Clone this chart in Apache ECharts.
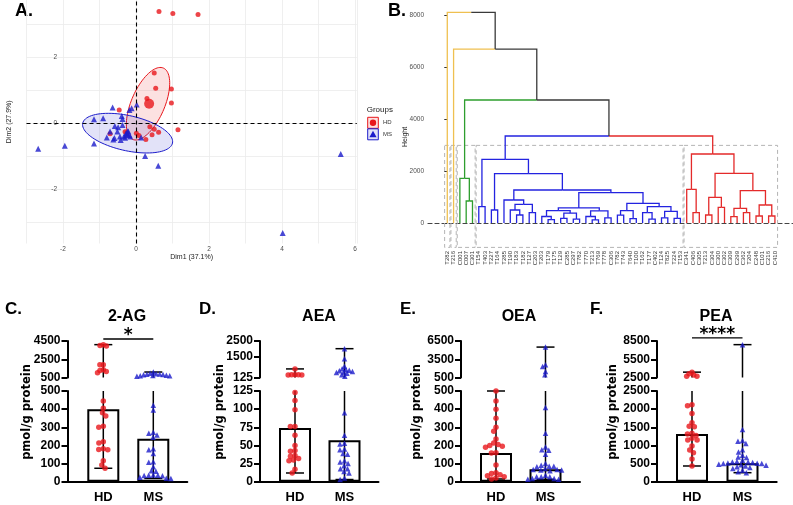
<!DOCTYPE html>
<html><head><meta charset="utf-8">
<script src="https://cdn.jsdelivr.net/npm/echarts@6/dist/echarts.min.js"></script>
<style>html,body{margin:0;padding:0;background:#fff}#c{width:793px;height:505px}</style>
</head><body><div id="c"></div>
<script>
// ================= DATA =================
// Panel A: PCA individuals (Dim1, Dim2)
const A_HD = [[0.63,3.37],[1.01,3.31],[1.70,3.28],[0.50,1.51],[0.54,1.05],[0.97,1.03],[0.30,0.74],[0.97,0.60],[-0.46,0.39],[1.15,-0.21],[0.38,-0.12],[0.50,-0.19],[0.62,-0.28],[0.44,-0.36],[0.27,-0.50],[0.08,-0.38],[0.01,-0.31],[-0.30,-0.27],[-0.71,-0.33],[-0.25,-0.30]];
const A_MS = [[-2.68,-0.78],[-1.95,-0.69],[-1.15,0.11],[-0.90,0.14],[-1.15,-0.62],[-0.64,0.47],[-0.80,-0.44],[-0.71,-0.26],[-0.58,-0.09],[-0.49,-0.13],[-0.59,-0.46],[-0.39,0.21],[-0.37,0.12],[-0.37,-0.06],[-0.51,-0.26],[-0.44,-0.41],[-0.42,-0.52],[-0.33,-0.41],[-0.27,-0.31],[-0.23,-0.36],[-0.18,0.39],[-0.12,0.44],[0.02,0.56],[-0.21,-0.26],[-0.16,-0.41],[0.14,-0.44],[0.25,-1.00],[0.61,-1.30],[4.02,-3.33],[5.61,-0.94],[-0.62,-0.50],[-0.30,-0.45]];
const A_HD_MEAN = [[0.36,0.58]];
const A_MS_MEAN = [[-0.23,-0.31]];
// confidence ellipses: centre x, centre y, axis-1 (x,y), axis-2 (x,y)
const A_ELLIPSES = [[0.33,0.58,0.42,1.08,0.42,-0.20],[-0.23,-0.31,1.23,-0.30,0.10,0.52]];
const A_X_LABELS = [-2,0,2,4,6];
const A_Y_GRID = [-3,-2,-1,0,1,2,3];
const A_Y_LABELS = [-2,0,2];

// Panel B: dendrogram
const B_LEAVES = ["T282","T216","C001","C007","C301",
 "T154","T403","T227","T164","T285","T190","T183","T182","T127","C203","T203","T179","T175","T129","C285","C297","T782","T770","T213","T769","T778","C306","T782","T743","T640","T100","T162","T177","C402","T124","T825","T224","T153",
 "C341","C406","C305","T213","C304","C300","C302","C309","C299","C362","T204","C248","C101","C216","C410"];
// merges: [left, right, height]; leaves are indices into B_LEAVES
const B_GREEN = [2,[3,4,847],1720];
const B_BLUE = [[5,6,629],[[7,8,500],[[9,[[10,[11,12,308],500],[13,14,398],719],886],[[[[15,[16,17,130],250],[[18,19,180],[20,21,150],380],475],[[22,[23,24,120],250],[25,26,200],470],580],[[[27,28,300],[29,30,170],475],[[31,[32,33,150],400],[[34,35,200],[36,37,180],450],629],757],1168],1271],1900],2452];
const B_RED = [[38,[39,40,398],1297],[[[41,42,308],[43,44,603],989],[[[45,46,244],[47,48,398],565],[[49,50,270],[51,52,270],693],1245],1913],2658];
const B_TREE = [0,[1,[B_GREEN,[B_BLUE,B_RED,3351],4738],6700],8113];
const B_CLUSTERS = [[0,'#EFC050'],[1,'#EFC050'],[B_GREEN,'#2E9E2E'],[B_BLUE,'#2323E0'],[B_RED,'#E42A2A']];
const B_Y_TICKS = [0,2000,4000,6000,8000];
const B_RECT_TOP = 2990, B_RECT_BOTTOM = -940;

// Panels C-F: pmol/g protein per subject
const C_HD = [4100,4000,3950,1910,1900,1350,1280,1170,1020,445,405,380,362,305,300,220,213,182,178,176,116,92,74];
const C_MS = [1100,960,920,880,850,820,790,760,730,700,680,650,422,395,273,267,258,245,182,176,155,110,107,83,60,58,37,36,35,34,33,25,19,18];
const C_BARS = [400,237];
const D_HD = [683,300,298,296,294,292,123,112,99,76,76,64,50,43,42,36,35,32,30,29,17,12];
const D_MS = [2000,1350,850,690,650,600,560,520,480,450,400,300,200,95,64,53,52,45,44,39,38,29,27,25,22,18,18,14,12,5,3];
const D_BARS = [74,57];
const E_HD = [500,445,400,350,300,278,235,213,205,200,195,190,160,158,92,50,45,38,33,27,20,15];
const E_MS = [5500,2600,2300,1500,950,409,267,191,176,173,151,100,91,85,85,82,73,67,67,64,64,60,36,27,27,27,18,18,13,13];
const E_BARS = [158,68];
const F_HD = [3380,3100,2900,2720,2700,2118,2091,1882,1627,1527,1518,1336,1318,1273,1200,1150,1150,984,874,800,626,433];
const F_MS = [7900,1436,1136,1118,1050,882,818,727,682,664,591,560,545,545,530,518,510,500,500,480,470,454,430,409,391,364,318,273,248];
const F_BARS = [1318,507];
const GROUPS = ['HD','MS'];
const C_TOP_TICKS = [500,2500,4500], D_TOP_TICKS = [125,1500,2500], E_TOP_TICKS = [500,3500,6500], F_TOP_TICKS = [2500,5500,8500];

// ================= LAYOUT / STYLE =================
const FONT = '"Liberation Sans", Arial, sans-serif';
const RED = '#E8161B', BLUE = '#1C1CCB';
const PANELS = [
 {title:'2-AG', letter:'C.', hd:C_HD, ms:C_MS, bars:C_BARS, bot:[0,500,100], top:[500,4500], topTicks:C_TOP_TICKS, sig:{text:'*', v:4720},
  L:{axisX:67.5, hdX:103.3, msX:153.3, end:187.3, titleX:127, letterX:5, ylabX:27.5}},
 {title:'AEA', letter:'D.', hd:D_HD, ms:D_MS, bars:D_BARS, bot:[0,125,25], top:[125,2500], topTicks:D_TOP_TICKS, sig:null,
  L:{axisX:260, hdX:295, msX:344.5, end:378.5, titleX:319, letterX:199, ylabX:220}},
 {title:'OEA', letter:'E.', hd:E_HD, ms:E_MS, bars:E_BARS, bot:[0,500,100], top:[500,6500], topTicks:E_TOP_TICKS, sig:null,
  L:{axisX:461, hdX:496, msX:545.5, end:580, titleX:519, letterX:400, ylabX:417}},
 {title:'PEA', letter:'F.', hd:F_HD, ms:F_MS, bars:F_BARS, bot:[0,2500,500], top:[2500,8500], topTicks:F_TOP_TICKS, sig:{text:'****', v:9000},
  L:{axisX:657, hdX:692, msX:742.5, end:776.7, titleX:716, letterX:590, ylabX:613}}
];
const TOP_TOP = 341, TOP_H = 36.5, BOT_TOP = 391, BOT_H = 90.7;
const plain = v => String(v);

// ================= BUILD =================
const grids = [], xAxes = [], yAxes = [], series = [], graphics = [];

// ---- Panel A ----
grids.push({left:26.5, top:0, width:330.3, height:243.5});
xAxes.push({gridIndex:0, type:'value', min:-3, max:6.05, interval:1,
  axisLine:{show:false}, axisTick:{show:false},
  axisLabel:{formatter:v=>A_X_LABELS.indexOf(v)>=0?String(v):'', fontSize:6.5, color:'#4d4d4d', margin:2, fontFamily:FONT},
  splitLine:{show:true, lineStyle:{color:'#ebebeb', width:0.8}},
  name:'Dim1 (37.1%)', nameLocation:'middle', nameGap:10, nameTextStyle:{fontSize:7, color:'#222', fontFamily:FONT}});
yAxes.push({gridIndex:0, type:'value', min:-3.65, max:3.72, offset:-33.5,
  axisLine:{show:false}, axisTick:{show:false, customValues:A_Y_GRID},
  axisLabel:{customValues:A_Y_LABELS, formatter:plain, fontSize:6.5, color:'#4d4d4d', margin:3, fontFamily:FONT},
  splitLine:{show:true, lineStyle:{color:'#ebebeb', width:0.8}},
  name:'Dim2 (27.9%)', nameLocation:'middle', nameGap:47, nameTextStyle:{fontSize:7, color:'#222', fontFamily:FONT}});
const A_FILL = ['rgba(232,22,27,0.13)','rgba(28,28,203,0.13)'];
const A_STROKE = [RED, BLUE];
series.push({type:'custom', xAxisIndex:0, yAxisIndex:0, silent:true, z:1, data:A_ELLIPSES,
  renderItem:(params, api)=>{
    const e = A_ELLIPSES[params.dataIndex]; const pts=[];
    for (let k=0;k<=90;k++){ const t=k/90*2*Math.PI;
      pts.push(api.coord([e[0]+e[2]*Math.cos(t)+e[4]*Math.sin(t), e[1]+e[3]*Math.cos(t)+e[5]*Math.sin(t)])); }
    return {type:'polygon', shape:{points:pts}, style:{fill:A_FILL[params.dataIndex], stroke:A_STROKE[params.dataIndex], lineWidth:1}};
  }});
series.push({type:'scatter', xAxisIndex:0, yAxisIndex:0, data:A_HD, symbol:'circle', symbolSize:5, itemStyle:{color:RED}, z:3,
  markLine:{silent:true, symbol:['none','none'], label:{show:false}, lineStyle:{color:'#000', type:[4,3], width:1.1}, data:[{xAxis:0},{yAxis:0}]}});
series.push({type:'scatter', xAxisIndex:0, yAxisIndex:0, data:A_MS, symbol:'triangle', symbolSize:6, itemStyle:{color:BLUE}, z:3});
series.push({type:'scatter', xAxisIndex:0, yAxisIndex:0, data:A_HD_MEAN, symbol:'circle', symbolSize:10, itemStyle:{color:RED}, z:4});
series.push({type:'scatter', xAxisIndex:0, yAxisIndex:0, data:A_MS_MEAN, symbol:'triangle', symbolSize:10, itemStyle:{color:BLUE}, z:4});
// legend (A)
graphics.push({type:'text', x:366.7, y:109.3, style:{text:'Groups', fill:'#222', font:'8px '+FONT, align:'left', verticalAlign:'middle'}});
graphics.push({type:'rect', shape:{x:367.7, y:117.3, width:10.6, height:11}, style:{fill:A_FILL[0], stroke:RED, lineWidth:1}});
graphics.push({type:'circle', shape:{cx:373, cy:122.8, r:3.2}, style:{fill:RED}});
graphics.push({type:'text', x:383, y:122.8, style:{text:'HD', fill:'#333', font:'6px '+FONT, align:'left', verticalAlign:'middle'}});
graphics.push({type:'rect', shape:{x:367.7, y:128.8, width:10.6, height:11}, style:{fill:A_FILL[1], stroke:BLUE, lineWidth:1}});
graphics.push({type:'polygon', shape:{points:[[373,130.8],[376.6,137.2],[369.4,137.2]]}, style:{fill:BLUE}});
graphics.push({type:'text', x:383, y:134.3, style:{text:'MS', fill:'#333', font:'6px '+FONT, align:'left', verticalAlign:'middle'}});

// ---- Panel B ----
grids.push({left:428, top:0, width:365, height:248});
xAxes.push({gridIndex:1, type:'value', min:-3.06, max:54.87,
  axisLine:{show:true, onZero:true, lineStyle:{color:'#444', type:[4,3], width:1.2}},
  axisTick:{show:false}, splitLine:{show:false},
  axisLabel:{customValues:B_LEAVES.map((_,i)=>i), formatter:v=>B_LEAVES[Math.round(v)], rotate:90, fontSize:6, color:'#333', margin:3, fontFamily:FONT}});
yAxes.push({gridIndex:1, type:'value', min:-963, max:8590,
  axisLine:{show:false}, splitLine:{show:false},
  axisTick:{show:true, customValues:B_Y_TICKS, length:3, lineStyle:{color:'#333'}},
  axisLabel:{customValues:B_Y_TICKS, formatter:plain, fontSize:6.5, color:'#4d4d4d', margin:4, fontFamily:FONT}});
const CMAP = new Map(B_CLUSTERS);
const B_SEGS = [];
function layoutTree(node, color){
  if (typeof node === 'number') return {x:node, h:0, color};
  const l = node[0], r = node[1], h = node[2];
  const cl = layoutTree(l, CMAP.has(l)?CMAP.get(l):color);
  const cr = layoutTree(r, CMAP.has(r)?CMAP.get(r):color);
  const x = (cl.x+cr.x)/2;
  B_SEGS.push([cl.x, cl.h, x, h, cl.color]);
  B_SEGS.push([cr.x, cr.h, x, h, cr.color]);
  return {x, h, color};
}
layoutTree(B_TREE, '#3a3a3a');
function leafRange(node){ if (typeof node==='number') return [node,node]; const a=leafRange(node[0]), b=leafRange(node[1]); return [Math.min(a[0],b[0]), Math.max(a[1],b[1])]; }
const B_RECTS = B_CLUSTERS.map(c=>{ const r=leafRange(c[0]); return [r[0]-0.42, r[1]+0.42, B_RECT_TOP, B_RECT_BOTTOM]; });
series.push({type:'custom', xAxisIndex:1, yAxisIndex:1, silent:true, z:1, data:B_RECTS,
  renderItem:(params, api)=>{
    const r = B_RECTS[params.dataIndex]; const p1 = api.coord([r[0], r[2]]), p2 = api.coord([r[1], r[3]]);
    return {type:'rect', shape:{x:p1[0], y:p1[1], width:p2[0]-p1[0], height:p2[1]-p1[1]}, style:{fill:'none', stroke:'#b4b4b4', lineWidth:1, lineDash:[4,3]}};
  }});
series.push({type:'custom', xAxisIndex:1, yAxisIndex:1, silent:true, z:2, data:B_SEGS.map(s=>[s[0],s[1],s[2],s[3]]),
  renderItem:(params, api)=>{
    const s = B_SEGS[params.dataIndex];
    const a = api.coord([s[0],s[1]]), b = api.coord([s[0],s[3]]), c = api.coord([s[2],s[3]]);
    return {type:'polyline', shape:{points:[a,b,c]}, style:{fill:'none', stroke:s[4], lineWidth:1.3}};
  }});
graphics.push({type:'text', x:405, y:137, rotation:Math.PI/2, style:{text:'Height', fill:'#222', font:'7px '+FONT, align:'center', verticalAlign:'middle'}});

// ---- Panels C-F ----
function swarm(values, segMin, pxPerUnit, d){
  const items = values.map((v,i)=>({v, i, y:(v-segMin)*pxPerUnit}));
  items.sort((a,b)=>b.v-a.v);
  const placed = [], off = new Array(values.length).fill(0);
  for (const it of items){
    const blocks = [], cands = [0];
    for (const p of placed){ const dy = Math.abs(p.y-it.y); if (dy < d){ const dx = Math.sqrt(d*d-dy*dy); blocks.push([p.x-dx, p.x+dx]); cands.push(p.x-dx, p.x+dx); } }
    cands.sort((a,b)=>Math.abs(a)-Math.abs(b));
    let x = 0;
    for (const c of cands){ if (blocks.every(b=>c<=b[0]+1e-6 || c>=b[1]-1e-6)){ x=c; break; } }
    placed.push({x, y:it.y}); off[it.i] = x;
  }
  return off;
}
function whisker(gi, ranges, segMin, segMax){
  return {type:'custom', xAxisIndex:gi, yAxisIndex:gi, silent:true, z:3, data:ranges.map((r,i)=>[i+1, r[0], r[1]]),
    renderItem:(params, api)=>{
      const x = api.value(0), lo = api.value(1), hi = api.value(2);
      const a = Math.max(lo, segMin), b = Math.min(hi, segMax);
      const ch = [];
      if (b > a){
        const pa = api.coord([x,a]), pb = api.coord([x,b]);
        ch.push({type:'line', shape:{x1:pa[0], y1:pa[1], x2:pb[0], y2:pb[1]}, style:{stroke:'#000', lineWidth:1.5}});
        if (lo >= segMin) ch.push({type:'line', shape:{x1:pa[0]-9, y1:pa[1], x2:pa[0]+9, y2:pa[1]}, style:{stroke:'#000', lineWidth:1.5}});
        if (hi <= segMax) ch.push({type:'line', shape:{x1:pb[0]-9, y1:pb[1], x2:pb[0]+9, y2:pb[1]}, style:{stroke:'#000', lineWidth:1.5}});
      }
      return {type:'group', children:ch};
    }};
}
const yLabelStyle = {fontSize:12, fontWeight:'bold', color:'#000', fontFamily:FONT, formatter:plain};
PANELS.forEach((P, k)=>{
  const L = P.L, gt = grids.length, gb = gt+1;
  const unit = L.msX - L.hdX;
  const xmin = 1 - (L.hdX - L.axisX)/unit, xmax = 2 + (L.end - L.msX)/unit;
  grids.push({left:L.axisX, top:TOP_TOP, width:L.end-L.axisX, height:TOP_H});
  grids.push({left:L.axisX, top:BOT_TOP, width:L.end-L.axisX, height:BOT_H});
  xAxes.push({gridIndex:gt, type:'value', min:xmin, max:xmax, show:false});
  xAxes.push({gridIndex:gb, type:'value', min:xmin, max:xmax,
    axisLine:{show:true, lineStyle:{color:'#000', width:2}}, axisTick:{show:false}, splitLine:{show:false},
    axisLabel:{customValues:[1,2], formatter:v=>GROUPS[Math.round(v)-1], fontSize:13, fontWeight:'bold', color:'#000', margin:9, fontFamily:FONT}});
  yAxes.push({gridIndex:gt, type:'value', min:P.top[0], max:P.top[1],
    axisLine:{show:true, lineStyle:{color:'#000', width:2}},
    axisTick:{show:true, customValues:P.topTicks, length:6, lineStyle:{color:'#000', width:2}},
    axisLabel:Object.assign({customValues:P.topTicks, margin:7}, yLabelStyle), splitLine:{show:false}});
  yAxes.push({gridIndex:gb, type:'value', min:P.bot[0], max:P.bot[1], interval:P.bot[2],
    axisLine:{show:true, lineStyle:{color:'#000', width:2}},
    axisTick:{show:true, length:6, lineStyle:{color:'#000', width:2}},
    axisLabel:Object.assign({margin:7}, yLabelStyle), splitLine:{show:false}});
  // bars (median)
  series.push({type:'bar', xAxisIndex:gb, yAxisIndex:gb, data:[[1,P.bars[0]],[2,P.bars[1]]], barWidth:32,
    itemStyle:{color:'#fff', borderColor:'#000', borderWidth:2}, z:2, silent:true});
  // whiskers (range)
  const ranges = [P.hd, P.ms].map(a=>[Math.min.apply(null,a), Math.max.apply(null,a)]);
  series.push(whisker(gb, ranges, P.bot[0], P.bot[1]));
  series.push(whisker(gt, ranges, P.top[0], P.top[1]));
  // points
  [[P.hd, 1, 'circle', RED, 5.5], [P.ms, 2, 'triangle', BLUE, 5.5]].forEach(g=>{
    const vals = g[0];
    const botV = vals.filter(v=>v<=P.bot[1]), topV = vals.filter(v=>v>P.bot[1]);
    const offB = swarm(botV, P.bot[0], BOT_H/(P.bot[1]-P.bot[0]), 4.6);
    const offT = swarm(topV, P.top[0], TOP_H/(P.top[1]-P.top[0]), 3.4);
    series.push({type:'scatter', xAxisIndex:gb, yAxisIndex:gb, symbol:g[2], symbolSize:g[4], itemStyle:{color:g[3]}, z:4, silent:true,
      data:botV.map((v,i)=>[g[1]+offB[i]/unit, v])});
    series.push({type:'scatter', xAxisIndex:gt, yAxisIndex:gt, symbol:g[2], symbolSize:g[4], itemStyle:{color:g[3]}, z:4, silent:true,
      data:topV.map((v,i)=>[g[1]+offT[i]/unit, v])});
  });
  // significance
  if (P.sig){
    const S = P.sig;
    series.push({type:'custom', xAxisIndex:gt, yAxisIndex:gt, silent:true, z:5, data:[[1,2,S.v]],
      renderItem:(params, api)=>{
        const a = api.coord([api.value(0), api.value(2)]), b = api.coord([api.value(1), api.value(2)]);
        return {type:'group', children:[
          {type:'line', shape:{x1:a[0], y1:a[1], x2:b[0], y2:b[1]}, style:{stroke:'#000', lineWidth:1.3}},
          {type:'text', x:(a[0]+b[0])/2, y:a[1]+5, style:{text:S.text, fill:'#000', font:'bold 17px "DejaVu Sans", sans-serif', align:'center', verticalAlign:'bottom'}}
        ]};
      }});
  }
  // texts
  graphics.push({type:'text', x:L.letterX, y:309, style:{text:P.letter, fill:'#000', font:'bold 17px '+FONT, align:'left', verticalAlign:'middle'}});
  graphics.push({type:'text', x:L.titleX, y:317, style:{text:P.title, fill:'#000', font:'bold 16px '+FONT, align:'center', verticalAlign:'middle'}});
  graphics.push({type:'text', x:L.ylabX, y:412, rotation:Math.PI/2, style:{text:'pmol/g protein', fill:'#000', font:'bold 11.5px "DejaVu Sans", sans-serif', align:'center', verticalAlign:'middle'}});
});
graphics.push({type:'text', x:15, y:11.5, style:{text:'A.', fill:'#000', font:'bold 18px '+FONT, align:'left', verticalAlign:'middle'}});
graphics.push({type:'text', x:388, y:11.5, style:{text:'B.', fill:'#000', font:'bold 18px '+FONT, align:'left', verticalAlign:'middle'}});

const chart = echarts.init(document.getElementById('c'), null, {renderer:'canvas', width:793, height:505});
chart.setOption({animation:false, backgroundColor:'#fff', grid:grids, xAxis:xAxes, yAxis:yAxes, series:series, graphic:graphics});
</script></body></html>
